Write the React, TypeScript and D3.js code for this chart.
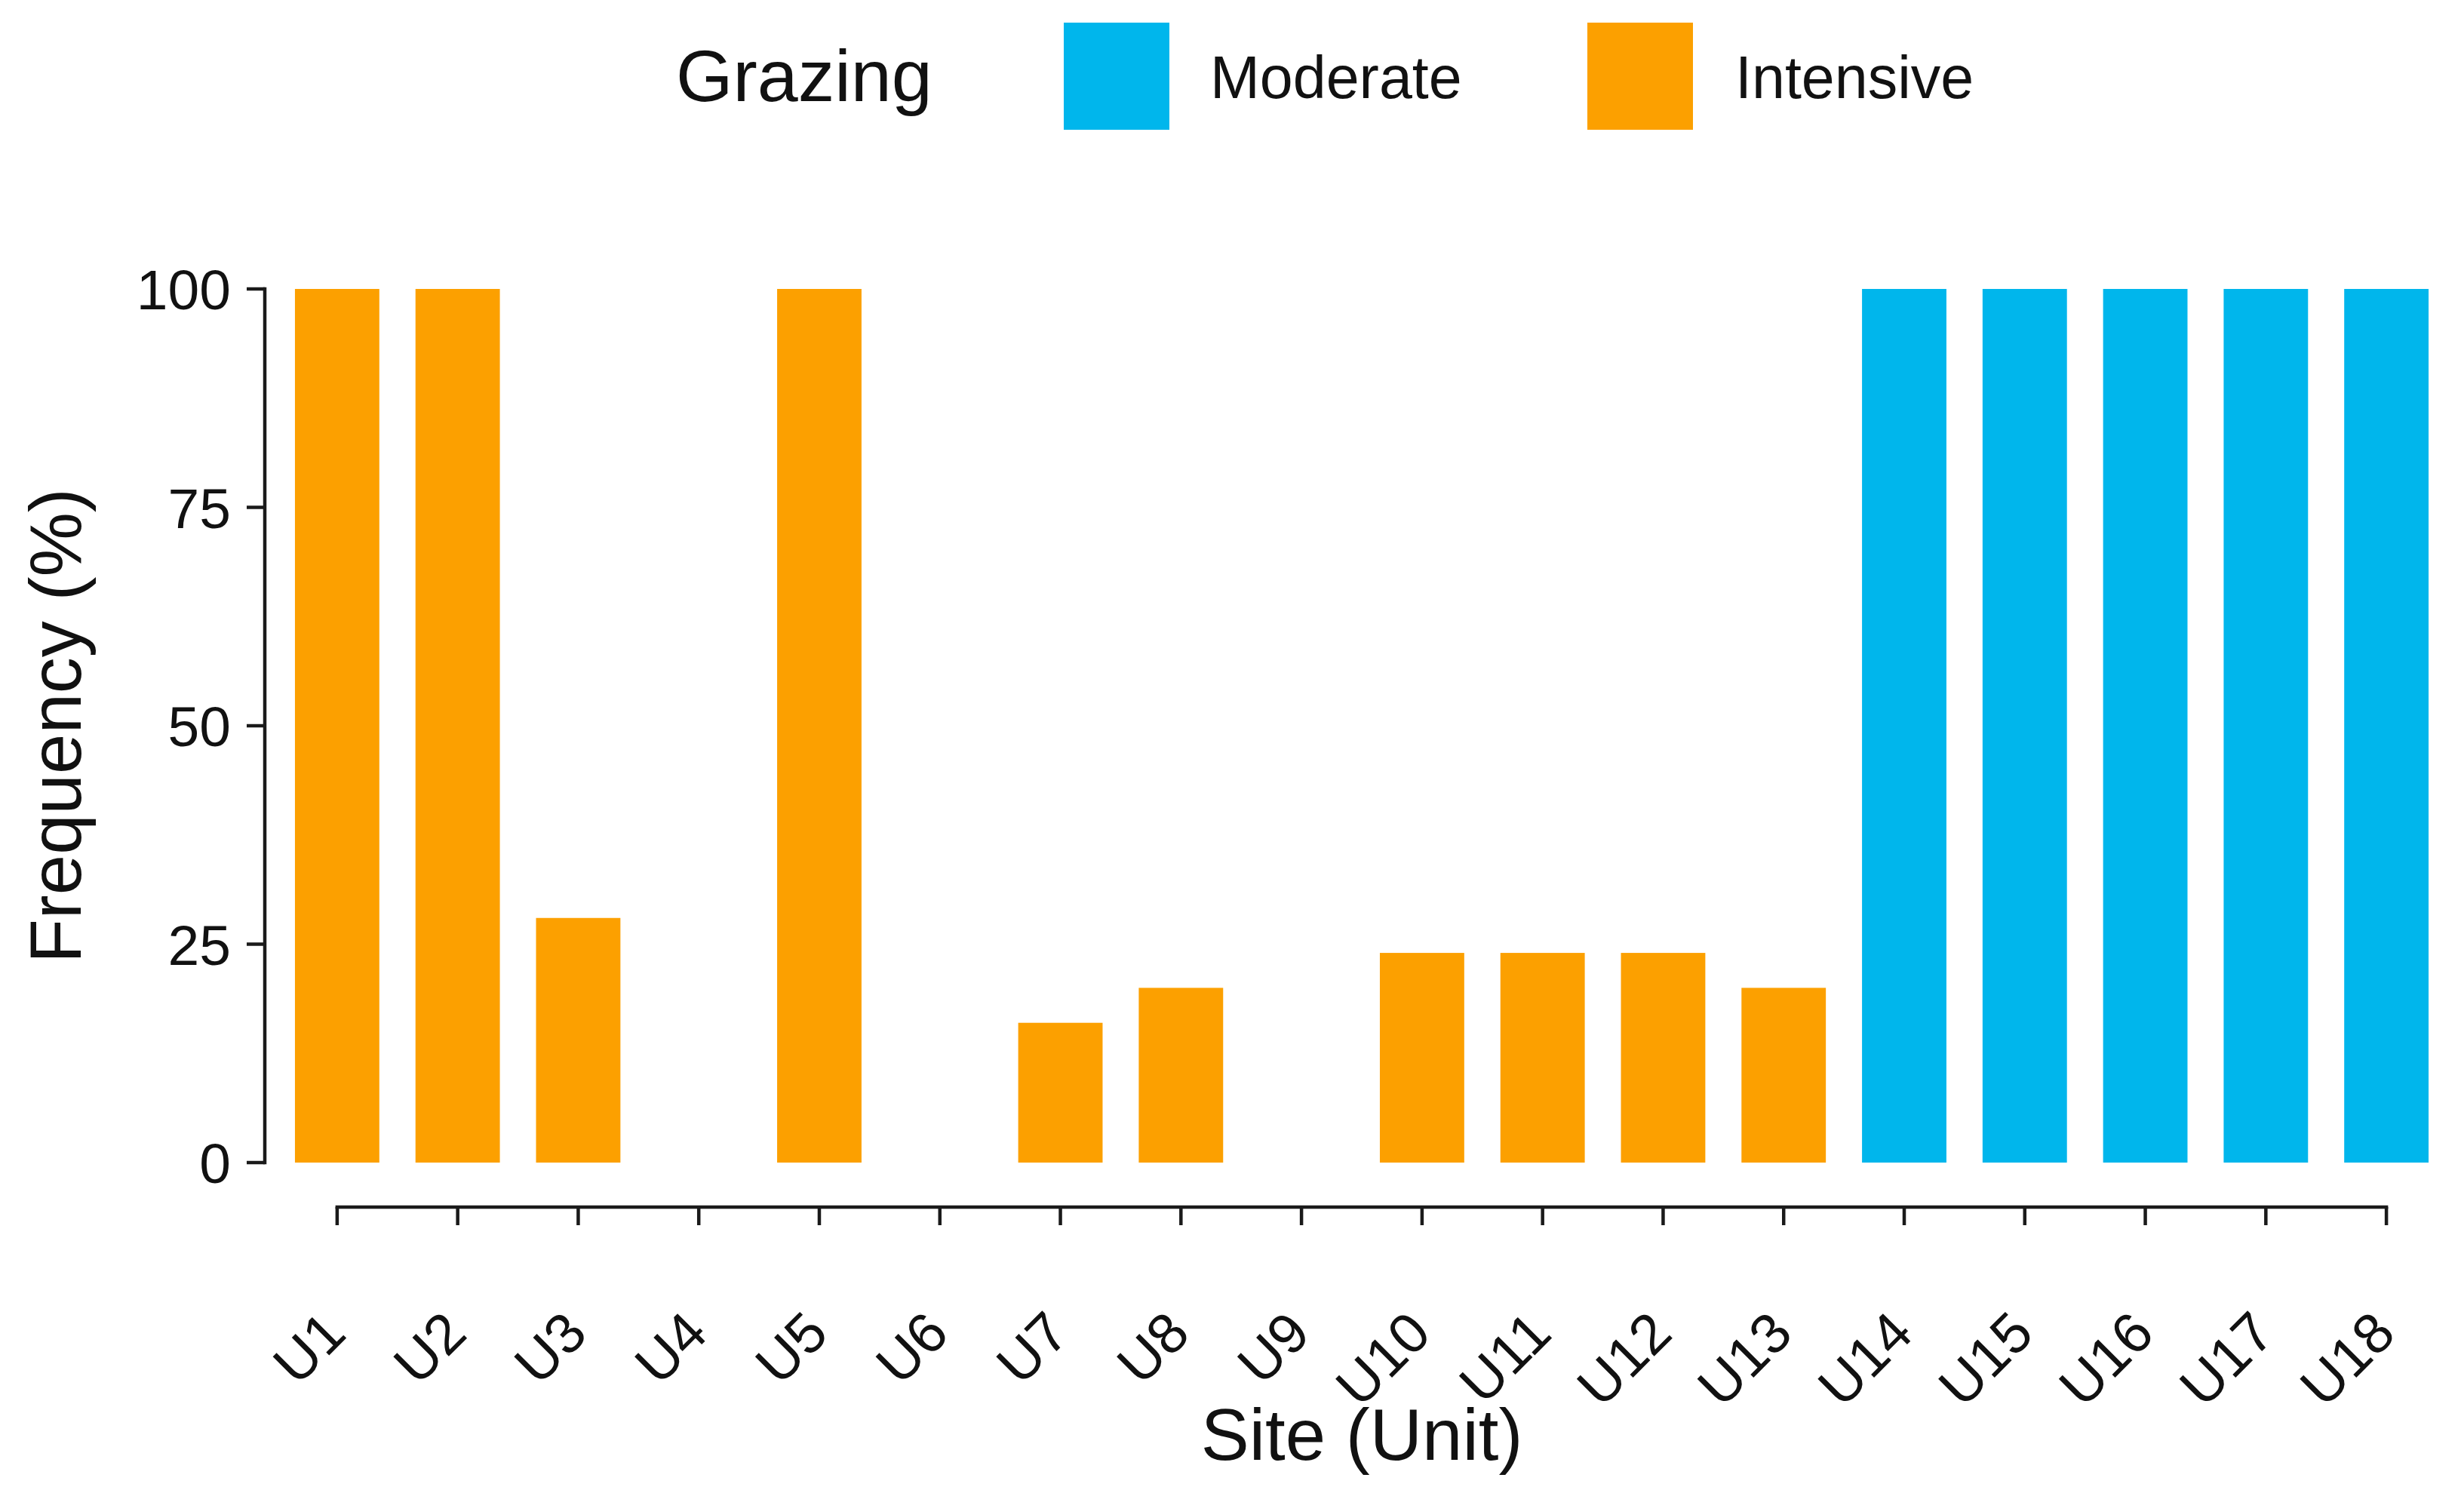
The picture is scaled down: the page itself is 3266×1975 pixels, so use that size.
import React, { useMemo } from "react";
import * as d3 from "d3";

// ---------------------------------------------------------------------------
// Data
// ---------------------------------------------------------------------------

const SITES = [
  "U1", "U2", "U3", "U4", "U5", "U6", "U7", "U8", "U9",
  "U10", "U11", "U12", "U13", "U14", "U15", "U16", "U17", "U18",
];

const FREQUENCY = [100, 100, 28, 0, 100, 0, 16, 20, 0, 24, 24, 24, 20, 100, 100, 100, 100, 100];

const GRAZING = [
  "Intensive", "Intensive", "Intensive", "Intensive", "Intensive", "Intensive",
  "Intensive", "Intensive", "Intensive", "Intensive", "Intensive", "Intensive",
  "Intensive", "Moderate", "Moderate", "Moderate", "Moderate", "Moderate",
];

const LEGEND_LEVELS = ["Moderate", "Intensive"];
const Y_TICKS = [0, 25, 50, 75, 100];

// ---------------------------------------------------------------------------
// Style / layout
// ---------------------------------------------------------------------------

const COLORS: Record<string, string> = {
  Moderate: "#00B6EC",
  Intensive: "#FCA000",
};

const W = 3266;
const H = 1975;
const FONT = "'Liberation Sans', Arial, Helvetica, sans-serif";
const INK = "#111111";
const AXIS = "#1a1a1a";

const PANEL = { left: 351, right: 3259, top: 383, bottom: 1541 };
const X_AXIS_Y = 1600;
const TICK = 24;

export default function App() {
  const x = useMemo(
    () =>
      d3
        .scaleBand<string>()
        .domain(SITES)
        .range([PANEL.left, PANEL.right])
        .paddingInner(0.3)
        .paddingOuter(0.25),
    [],
  );

  const y = useMemo(
    () => d3.scaleLinear().domain([0, 100]).range([PANEL.bottom, PANEL.top]),
    [],
  );

  const cx = (s: string) => (x(s) ?? 0) + x.bandwidth() / 2;
  const first = cx(SITES[0]);
  const last = cx(SITES[SITES.length - 1]);

  // legend layout
  const keyX = [1410, 2104];
  const labelX = [1604, 2300];

  return (
    <div style={{ position: "absolute", left: 0, top: 0 }}>
      <svg width={W} height={H} style={{ display: "block", background: "#fff" }}>
        {/* Legend */}
        <text x={896} y={134} fontSize={97} fontFamily={FONT} fill={INK}>
          Grazing
        </text>
        {LEGEND_LEVELS.map((lv, i) => (
          <g key={lv}>
            <rect x={keyX[i]} y={30} width={140} height={142} fill={COLORS[lv]} />
            <text x={labelX[i]} y={130} fontSize={79} fontFamily={FONT} fill={INK}>
              {lv}
            </text>
          </g>
        ))}

        {/* Bars */}
        {SITES.map((s, i) =>
          FREQUENCY[i] > 0 ? (
            <rect
              key={s}
              x={x(s)}
              y={y(FREQUENCY[i])}
              width={x.bandwidth()}
              height={y(0) - y(FREQUENCY[i])}
              fill={COLORS[GRAZING[i]]}
            />
          ) : null,
        )}

        {/* Y axis */}
        <line
          x1={PANEL.left}
          x2={PANEL.left}
          y1={y(100)}
          y2={y(0)}
          stroke={AXIS}
          strokeWidth={4.5}
          strokeLinecap="square"
        />
        {Y_TICKS.map((t) => (
          <g key={t}>
            <line
              x1={PANEL.left - TICK}
              x2={PANEL.left}
              y1={y(t)}
              y2={y(t)}
              stroke={AXIS}
              strokeWidth={4.5}
            />
            <text
              x={306}
              y={y(t)}
              dy="0.36em"
              textAnchor="end"
              fontSize={75}
              fontFamily={FONT}
              fill={INK}
            >
              {t}
            </text>
          </g>
        ))}
        <text
          transform={`translate(107,${(PANEL.top + PANEL.bottom) / 2}) rotate(-90)`}
          textAnchor="middle"
          fontSize={96}
          fontFamily={FONT}
          fill={INK}
        >
          Frequency (%)
        </text>

        {/* X axis */}
        <line
          x1={first}
          x2={last}
          y1={X_AXIS_Y}
          y2={X_AXIS_Y}
          stroke={AXIS}
          strokeWidth={4.5}
          strokeLinecap="square"
        />
        {SITES.map((s) => (
          <g key={s}>
            <line
              x1={cx(s)}
              x2={cx(s)}
              y1={X_AXIS_Y}
              y2={X_AXIS_Y + TICK}
              stroke={AXIS}
              strokeWidth={4.5}
            />
            <text
              transform={`translate(${cx(s) + 15},1771) rotate(-45)`}
              textAnchor="end"
              fontSize={75}
              fontFamily={FONT}
              fill={INK}
            >
              {s}
            </text>
          </g>
        ))}
        <text
          x={(PANEL.left + PANEL.right) / 2}
          y={1935}
          textAnchor="middle"
          fontSize={96}
          fontFamily={FONT}
          fill={INK}
        >
          Site (Unit)
        </text>
      </svg>
    </div>
  );
}
